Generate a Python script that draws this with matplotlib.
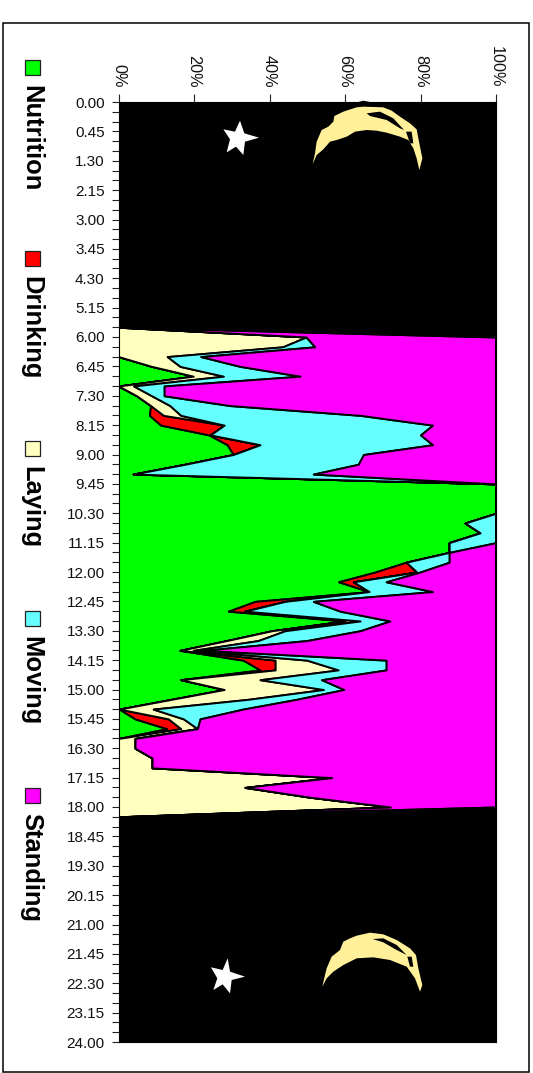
import numpy as np
import matplotlib
matplotlib.use("Agg")
import matplotlib.pyplot as plt
from matplotlib.patches import Polygon, Rectangle

W, H = 533, 1073
plt.rcParams['font.family'] = ['Liberation Sans', 'DejaVu Sans']

tick_labels = ["0.00","0.45","1.30","2.15","3.00","3.45","4.30","5.15","6.00","6.45","7.30","8.15",
               "9.00","9.45","10.30","11.15","12.00","12.45","13.30","14.15","15.00","15.45","16.30",
               "17.15","18.00","18.45","19.30","20.15","21.00","21.45","22.30","23.15","24.00"]
pct_labels = ["0%", "20%", "40%", "60%", "80%", "100%"]

# Quarter-hour readings from 6.00 (index 24) to 18.00 (index 72), percent of time
nutrition = [0,0,0,8.8,19.8,0,4.8,8.5,8.2,11.2,24,28.8,30.4,17.6,3.9,100,100,100,100,91.8,95.8,87.6,87.6,
             76.2,68,58.3,66.4,36.2,29.1,60,40.6,28.7,16.3,33,37.5,16.5,28,14.1,0.2,4.4,12.8,0,0,0,0,0,0,0,0]
drinking  = [0,0,0,0,0,0,0,0,3.7,16.8,0.3,8.7,0,0,0,0,0,0,0,0,0,0,0,
             0,11,3.9,0,7.9,4.4,0,0,0,0,8.5,4,0,0,0,0,8.8,3.7,0,0,0,0,0,0,0,0]
laying    = [49.7,43.5,12.9,7.5,8,4,4,5.1,4.6,0,0,0,0,0,0,0,0,0,0,0,0,0,0,
             0,0,0,0,0,0,4,3.5,8.3,3.5,8.4,16.7,21,26.3,20.3,9,4,4.4,4.4,4.4,8.9,8.9,56.5,33.5,50.7,72]
moving    = [0,8.5,8.9,15.9,20.3,8.1,3.3,15.9,47.5,55.2,55.7,45.7,34.5,45.9,47.7,0,0,0,0,8.2,4.2,12.4,0,
             11.4,0.9,8.7,16.8,7.5,25.2,7.9,19.9,12.9,2.7,21,12.7,16.3,5.4,12.8,23.8,4.4,0,0,0,0,0,0,0,0,0]
first_index = 24
names  = ["Nutrition", "Drinking", "Laying", "Moving", "Standing"]
colors = ["#00FF00", "#FF0000", "#FFFFC0", "#66FFFF", "#FF00FF"]
legend_marker_y = [67, 258, 448, 618, 795]

def crop(ox, oy, pts):
    return [(ox + x/3, oy + y/3) for x, y in pts]

moon1 = crop(200, 90, [(338,222),(345,190),(350,155),(365,120),(385,110),(400,95),(403,78),(430,65),(445,60),
                       (470,52),(490,50),(550,52),(575,62),(600,80),(630,100),(650,118),(655,145),(660,170),
                       (667,205),(658,240),(650,205),(640,175),(625,150),(600,140),(560,128),(530,122),(500,120),
                       (465,125),(440,140),(410,150),(390,155),(370,178),(350,195)])
moon1_slits = [crop(200, 90, [(500,70),(540,65),(580,85),(612,120),(600,115),(560,90),(510,78)]),
               crop(200, 90, [(618,125),(635,125),(640,160),(630,160)])]
star1 = crop(200, 90, [(120,92),(133,130),(177,143),(135,155),(130,195),(108,170),(80,187),(90,148),(70,118),(105,125)])
moon2 = crop(200, 925, [(367,185),(375,150),(380,130),(395,95),(420,75),(430,50),(450,40),(470,32),(510,23),(550,28),
                        (590,45),(630,70),(648,90),(655,130),(667,180),(660,200),(645,160),(620,125),(570,105),
                        (520,97),(470,100),(430,120),(400,140),(380,160)])
moon2_slits = [crop(200, 925, [(518,42),(550,40),(590,60),(620,90),(590,75),(550,52)]),
               crop(200, 925, [(622,95),(635,95),(640,125),(630,125)])]
star2 = crop(200, 925, [(83,100),(90,140),(135,155),(95,165),(90,205),(68,178),(40,195),(52,160),(33,127),(68,135)])
moon_cap = crop(200, 90, [(475,36),(490,32),(510,36)])

fig = plt.figure(figsize=(W/100, H/100), dpi=100, facecolor="white")

L, R, T, B = 118.5, 496, 102, 1042
ax = fig.add_axes([L/W, 1-B/H, (R-L)/W, (B-T)/H])
idx = np.arange(97)
series = np.zeros((5, 97))
n = len(nutrition)
for k, vals in enumerate([nutrition, drinking, laying, moving]):
    series[k, first_index:first_index+n] = vals
series[4, first_index:first_index+n] = 100 - series[:4, first_index:first_index+n].sum(axis=0)
night = np.zeros(97)
night[:first_index] = 100
night[first_index+n:] = 100

base = np.zeros(97)
for k in range(5):
    ax.fill_betweenx(idx, base, base+series[k], facecolor=colors[k], edgecolor="black", linewidth=1.4, zorder=2+k*0.01)
    base = base + series[k]
ax.fill_betweenx(idx, base, base+night, facecolor="black", edgecolor="black", linewidth=1.4, zorder=2.1)

ax.set_xlim(0, 100)
ax.set_ylim(96, 0)
ax.xaxis.tick_top()
ax.set_xticks(np.arange(0, 101, 20))
ax.set_xticklabels(pct_labels, rotation=-90, fontsize=11.7, ha="center", va="bottom")
ax.set_yticks(np.arange(0, 97))
ax.set_yticklabels([tick_labels[i//3] if i % 3 == 0 else "" for i in range(97)], fontsize=11)
ax.tick_params(axis="y", length=5, width=0.8, pad=5, color="#222222", labelcolor="#111111")
ax.tick_params(axis="x", length=6, width=0.8, pad=4.5, color="#222222", labelcolor="#111111")
for s in ax.spines.values():
    s.set_linewidth(0.8)

ov = fig.add_axes([0, 0, 1, 1], facecolor="none")
ov.set_xlim(0, W)
ov.set_ylim(H, 0)
ov.axis("off")
ov.add_patch(Rectangle((2.5, 22.5), 526.5, 1049.5, fill=False, edgecolor="black", linewidth=1.1))
for name, col, my in zip(names, colors, legend_marker_y):
    ov.add_patch(Rectangle((24.5, my-7.5), 15, 15, facecolor=col, edgecolor="#222222", linewidth=0.9))
    ov.text(31, my+18, name, rotation=-90, rotation_mode="default", ha="center", va="top",
            fontsize=18.4, fontweight="bold", color="black")
for m, slits, st in [(moon1, moon1_slits, star1), (moon2, moon2_slits, star2)]:
    ov.add_patch(Polygon(m, closed=True, facecolor="#FFF099", edgecolor="none"))
    for sl in slits:
        ov.add_patch(Polygon(sl, closed=True, facecolor="black", edgecolor="none"))
    ov.add_patch(Polygon(st, closed=True, facecolor="white", edgecolor="none"))
ov.add_patch(Polygon(moon_cap, closed=True, facecolor="black", edgecolor="none"))

fig.savefig("out.png", dpi=100)
